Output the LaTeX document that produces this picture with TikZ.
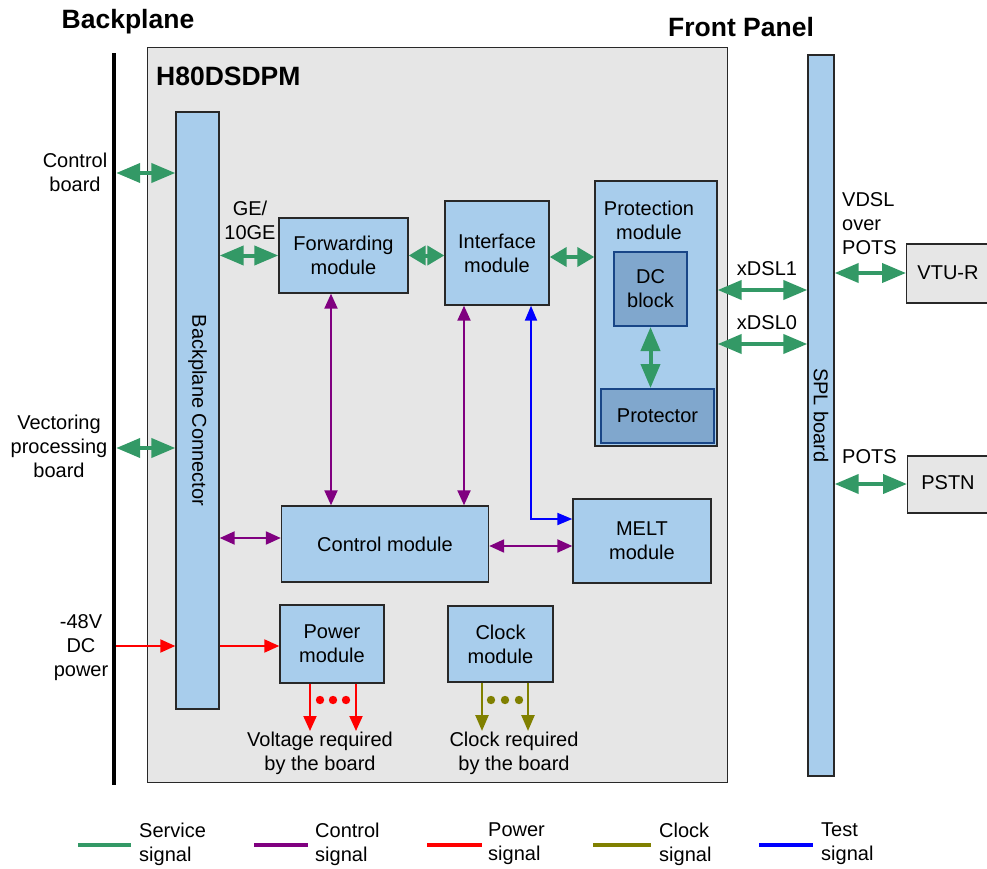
\documentclass[tikz,border=0pt]{standalone}
\usepackage{fontspec}
\setmainfont{Liberation Sans}
\usetikzlibrary{arrows.meta}
\definecolor{lblue}{RGB}{168,205,236}
\definecolor{dblue}{RGB}{128,167,205}
\definecolor{dborder}{RGB}{25,70,135}
\definecolor{bggray}{RGB}{230,230,230}
\definecolor{sgreen}{RGB}{51,153,102}
\definecolor{cpurple}{RGB}{128,0,128}
\definecolor{colive}{RGB}{128,128,0}
\definecolor{edgec}{RGB}{40,40,40}
\begin{document}
\begin{tikzpicture}[x=1pt,y=-1pt,font=\fontsize{20}{24}\selectfont,
  box/.style={draw=edgec,line width=1.4pt,fill=lblue,inner sep=0pt,align=center},
  innerbox/.style={draw=dborder,line width=2pt,fill=dblue,inner sep=0pt,align=center},
  graybox/.style={draw=edgec,line width=1.3pt,fill=bggray,inner sep=0pt,align=center},
  lbl/.style={inner sep=0pt,align=center},
  ttl/.style={inner sep=0pt,font=\bfseries\fontsize{26.5}{30}\selectfont},
  sarrow/.style={draw=sgreen,line width=4pt,{Triangle[length=24pt,width=19pt]}-{Triangle[length=24pt,width=19pt]}},
  sarrowshort/.style={draw=sgreen,line width=4pt,{Triangle[length=17pt,width=19pt]}-{Triangle[length=17pt,width=19pt]}},
  carrow/.style={draw=cpurple,line width=2.2pt,{Triangle[length=15pt,width=13pt]}-{Triangle[length=15pt,width=13pt]}},
  parrow/.style={draw=red,line width=2pt,-{Triangle[length=15pt,width=13pt]}},
  klarrow/.style={draw=colive,line width=2.5pt,-{Triangle[length=16pt,width=13pt]}},
  tarrow/.style={draw=blue,line width=2pt,{Triangle[length=15pt,width=12pt]}-{Triangle[length=15pt,width=12pt]}},
  legline/.style={line width=4pt},
  legtext/.style={anchor=west,inner sep=0pt,align=left}]
\useasboundingbox (0,0) rectangle (987,869);
\clip (0,0) rectangle (987,869);

% titles
\node[ttl] (bptitle) at (128,22) {Backplane};
\node[ttl] (fptitle) at (741,27) {Front Panel};

% backplane line
\node[fill=black,minimum width=4pt,minimum height=732pt,inner sep=0pt] (bpl) at (114,419) {};

% main board
\node[graybox,minimum width=580pt,minimum height=735pt,anchor=north west] (main) at (147,47) {};
\node[ttl,anchor=west] (board) at (156,76) {H80DSDPM};

% modules
\node[box,minimum width=43pt,minimum height=597pt] (bpc) at (197.5,410.5) {};
\node[rotate=-90,inner sep=0pt] (bpctext) at (bpc.center) {Backplane Connector};
\node[box,minimum width=129pt,minimum height=75pt] (fwd) at (343.5,255.5) {Forwarding\\module};
\node[box,minimum width=104pt,minimum height=104pt] (intf) at (497,253) {Interface\\module};
\node[box,minimum width=122pt,minimum height=265pt] (prot) at (656,313.5) {};
\node[lbl] (prottext) at (649,220) {Protection\\module};
\node[innerbox,minimum width=73pt,minimum height=74pt] (dc) at (650.5,289) {DC\\block};
\node[innerbox,minimum width=113pt,minimum height=54pt] (protector) at (657.5,416) {Protector};
\node[box,minimum width=207pt,minimum height=76pt] (ctrl) at (385,544) {Control module};
\node[box,minimum width=138pt,minimum height=84pt] (melt) at (642,541) {MELT\\module};
\node[box,minimum width=104pt,minimum height=78pt] (pwr) at (332,644) {Power\\module};
\node[box,minimum width=105pt,minimum height=76pt] (clk) at (500.5,644) {Clock\\module};

% SPL board and peers
\node[box,minimum width=26pt,minimum height=721pt] (spl) at (821,415.5) {};
\node[rotate=-90,inner sep=0pt] (spltext) at (spl.center) {SPL board};
\node[graybox,minimum width=88pt,minimum height=59pt,anchor=west] (vtur) at (906,273.5) {};
\node[inner sep=0pt] (vturtext) at (948,273) {VTU-R};
\node[graybox,minimum width=88pt,minimum height=57pt,anchor=west] (pstn) at (907,484.5) {};
\node[inner sep=0pt] (pstntext) at (948,483) {PSTN};

% left labels
\node[lbl] (cbl) at (75,172) {Control\\board};
\node[lbl] (vpl) at (59,446) {Vectoring\\processing\\board};
\node[lbl] (dcl) at (81,648) {-48V\\DC\\power};
\node[lbl] (gel) at (250,220) {GE/\\10GE};

% right labels
\node[lbl] (x1l) at (767,269) {xDSL1};
\node[lbl] (x0l) at (767,323) {xDSL0};
\node[legtext] (vdl) at (842,224) {VDSL\\over\\POTS};
\node[legtext] (potl) at (842,457) {POTS};

% helper coordinates
\coordinate (ycb) at (0,173);
\coordinate (yvp) at (0,448);
\coordinate (ypw) at (0,646);
\coordinate (yip) at (0,257);
\coordinate (yx1) at (0,290);
\coordinate (yx0) at (0,344);
\coordinate (yvt) at (0,273);
\coordinate (ypo) at (0,484);
\coordinate (ybc) at (0,538);
\coordinate (ycm) at (0,546);
\coordinate (ytb) at (0,519);
\coordinate (xf) at (331,0);
\coordinate (xi) at (464,0);
\coordinate (xt) at (531,0);
\coordinate (xp1) at (310,0);
\coordinate (xp2) at (356,0);
\coordinate (xc1) at (482,0);
\coordinate (xc2) at (528,0);
\coordinate (yend) at (0,731);

% service signals
\draw[sarrow] (bpl.east |- ycb) -- (bpc.west |- ycb);
\draw[sarrow] (bpl.east |- yvp) -- (bpc.west |- yvp);
\draw[sarrow] (bpc.east |- fwd.west) -- (fwd.west);
\draw[sarrowshort] (fwd.east) -- (fwd.east -| intf.west);
\draw[sarrowshort] (intf.east |- yip) -- (prot.west |- yip);
\draw[sarrow] (dc.south) -- (dc.south |- protector.north);
\draw[sarrow] (prot.east |- yx1) -- (spl.west |- yx1);
\draw[sarrow] (prot.east |- yx0) -- (spl.west |- yx0);
\draw[sarrow] (spl.east |- yvt) -- (vtur.west |- yvt);
\draw[sarrow] (spl.east |- ypo) -- (pstn.west |- ypo);

% control signals
\draw[carrow] (fwd.south -| xf) -- (ctrl.north -| xf);
\draw[carrow] (intf.south -| xi) -- (ctrl.north -| xi);
\draw[carrow] (bpc.east |- ybc) -- (ctrl.west |- ybc);
\draw[carrow] (ctrl.east |- ycm) -- (melt.west |- ycm);

% test signal
\draw[tarrow] (intf.south -| xt) -- (xt |- ytb) -- (melt.west |- ytb);

% power signals
\draw[parrow] (bpl.east |- ypw) -- (bpc.west |- ypw);
\draw[parrow] (bpc.east |- ypw) -- (pwr.west |- ypw);
\draw[parrow] (pwr.south -| xp1) -- (xp1 |- yend);
\draw[parrow] (pwr.south -| xp2) -- (xp2 |- yend);
\foreach \x in {320,333,346} \fill[red] (\x,700) circle (4.2pt);

% clock signals
\draw[klarrow] (clk.south -| xc1) -- (xc1 |- yend);
\draw[klarrow] (clk.south -| xc2) -- (xc2 |- yend);
\foreach \x in {491,505,519} \fill[colive] (\x,700) circle (4.2pt);

\node[lbl] (voltl) at (320,753) {Voltage required\\by the board};
\node[lbl] (clkl) at (514,753) {Clock required\\by the board};

% legend
\coordinate (lg1a) at (78,845); \coordinate (lg1b) at (131,845);
\coordinate (lg2a) at (254,845); \coordinate (lg2b) at (308,845);
\coordinate (lg3a) at (427,845); \coordinate (lg3b) at (482,845);
\coordinate (lg4a) at (593,845); \coordinate (lg4b) at (651,845);
\coordinate (lg5a) at (759,845); \coordinate (lg5b) at (813,845);
\draw[legline,sgreen] (lg1a) -- (lg1b);
\draw[legline,cpurple] (lg2a) -- (lg2b);
\draw[legline,red] (lg3a) -- (lg3b);
\draw[legline,colive] (lg4a) -- (lg4b);
\draw[legline,blue] (lg5a) -- (lg5b);
\node[legtext] (lt1) at (139,844) {Service\\signal};
\node[legtext] (lt2) at (315,844) {Control\\signal};
\node[legtext] (lt3) at (488,844) {Power\\signal};
\node[legtext] (lt4) at (659,844) {Clock\\signal};
\node[legtext] (lt5) at (821,844) {Test\\signal};
\end{tikzpicture}
\end{document}
